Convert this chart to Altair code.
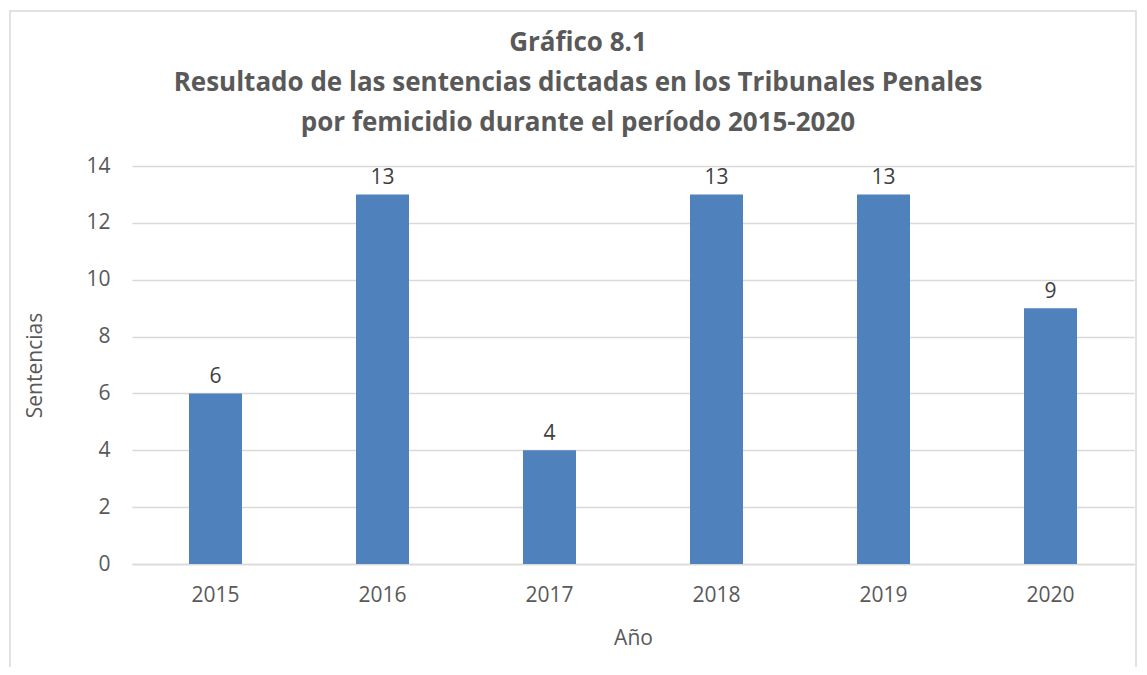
import altair as alt
import pandas as pd

years = ["2015", "2016", "2017", "2018", "2019", "2020"]
sentencias = [6, 13, 4, 13, 13, 9]
y_ticks = [0, 2, 4, 6, 8, 10, 12, 14]
title_lines = [
    "Gráfico 8.1",
    "Resultado de las sentencias dictadas en los Tribunales Penales",
    "por femicidio durante el período 2015-2020",
]

df = pd.DataFrame({"Año": years, "Sentencias": sentencias})

FONT = "Open Sans"
GRAY = "#595959"

base = alt.Chart(df)

bars = base.mark_bar(color="#4f81bd", size=53).encode(
    x=alt.X("Año:N", sort=years, scale=alt.Scale(paddingInner=0, paddingOuter=0),
            axis=alt.Axis(title="Año", labelAngle=0, ticks=False, grid=False,
                          domainColor="#d9d9d9", domainWidth=1.5,
                          labelPadding=20, titlePadding=22)),
    y=alt.Y("Sentencias:Q", scale=alt.Scale(domain=[0, 14], nice=False),
            axis=alt.Axis(title="Sentencias", values=y_ticks, ticks=False, domain=False,
                          gridColor="#d9d9d9", gridWidth=1.5,
                          labelPadding=22, titlePadding=40)),
)

labels = base.mark_text(baseline="bottom", dy=-6, font=FONT, fontSize=21, color="#404040").encode(
    x=alt.X("Año:N", sort=years),
    y=alt.Y("Sentencias:Q"),
    text=alt.Text("Sentencias:Q"),
)

border = alt.Chart(pd.DataFrame({"k": [0]})).mark_rect(
    fill=None, stroke="#d9d9d9", strokeWidth=1.5, clip=False
).encode(
    x=alt.value(-122), x2=alt.value(1004), y=alt.value(-155), y2=alt.value(620)
)

chart = alt.layer(border, bars, labels).properties(
    width=1002,
    height=398,
    padding={"left": 124, "top": 158, "right": 5, "bottom": 103},
    autosize=alt.AutoSizeParams(type="none"),
    title=alt.TitleParams(
        text=title_lines, anchor="middle", frame="group", font=FONT, fontSize=26,
        fontWeight="bold", color=GRAY, lineHeight=40, baseline="top", offset=8,
        dx=-55, dy=134,
    ),
).configure_axis(
    labelFont=FONT, labelFontSize=21, labelColor=GRAY,
    titleFont=FONT, titleFontSize=21, titleColor=GRAY, titleFontWeight="normal",
).configure_view(stroke=None)

chart.save("out.html", embed_options={"renderer": "svg", "actions": False})
